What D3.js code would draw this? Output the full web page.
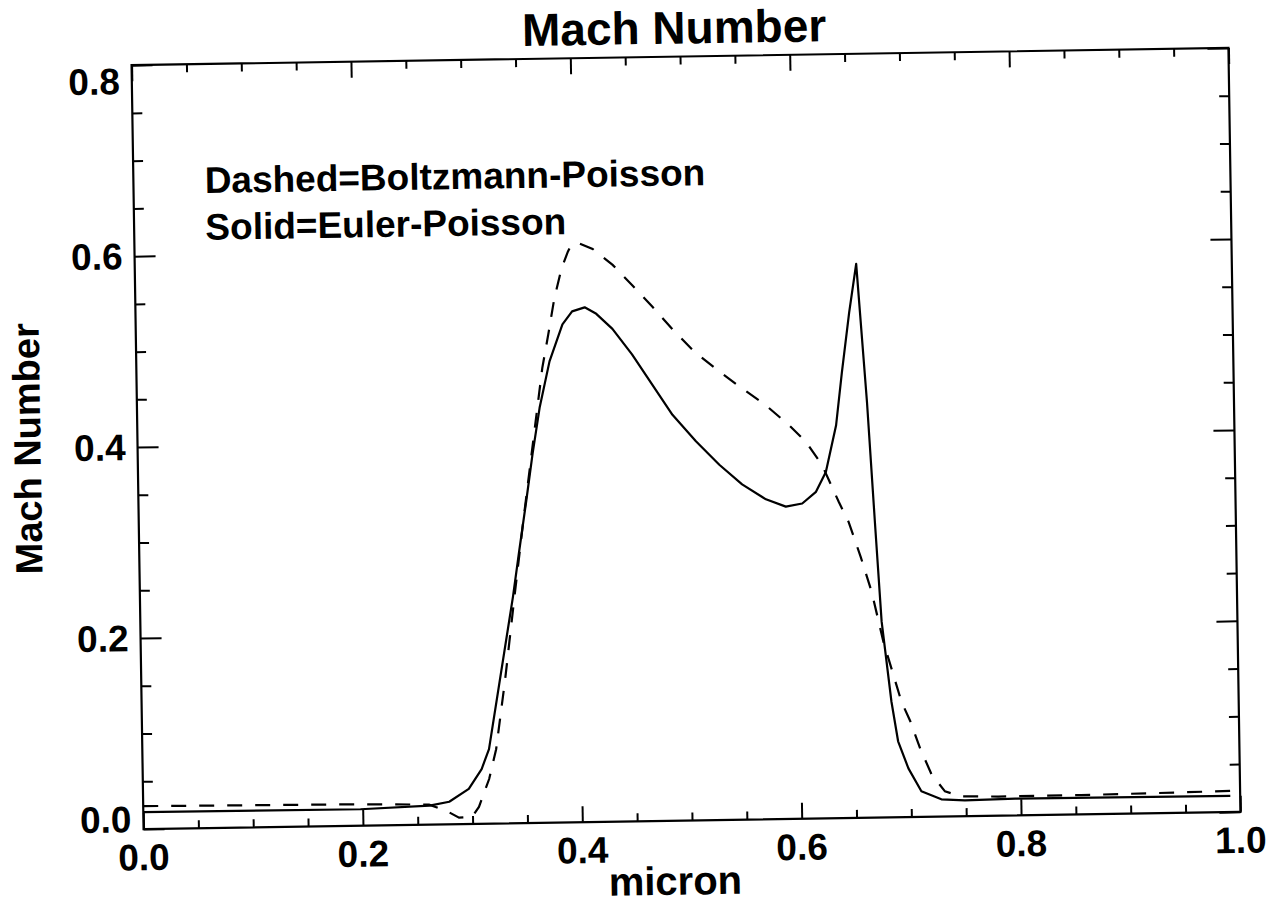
<!DOCTYPE html>
<html>
<head>
<meta charset="utf-8">
<script src="https://cdn.jsdelivr.net/npm/d3@7"></script>
<style>
body { margin: 0; background: #fff; }
text { font-family: 'Liberation Sans', Arial, Helvetica, sans-serif; font-weight: bold; fill: #000; }
</style>
</head>
<body>
<svg id="chart" width="1283" height="910"></svg>
<script>
// values
const solidX = [0, 0.198, 0.261, 0.279, 0.297, 0.309, 0.316, 0.340, 0.3465, 0.3536, 0.360, 0.367, 0.3767, 0.389, 0.398, 0.4095, 0.420, 0.4345, 0.452, 0.470, 0.488, 0.509, 0.530, 0.5505, 0.572, 0.590, 0.605, 0.6177, 0.627, 0.637, 0.643, 0.6505, 0.6576, 0.6655, 0.671, 0.6757, 0.6835, 0.689, 0.698, 0.7095, 0.7276, 0.749, 0.795, 0.991]
const solidY = [0.0177, 0.0172, 0.0198, 0.0236, 0.0367, 0.0573, 0.078, 0.237, 0.286, 0.338, 0.387, 0.4345, 0.483, 0.5216, 0.535, 0.539, 0.532, 0.516, 0.489, 0.457, 0.425, 0.397, 0.372, 0.351, 0.335, 0.327, 0.330, 0.342, 0.3626, 0.4114, 0.4665, 0.529, 0.580, 0.4347, 0.309, 0.205, 0.121, 0.0795, 0.051, 0.0268, 0.018, 0.0165, 0.0175, 0.0169]

const dashedX = [0, 0.198, 0.2606, 0.276, 0.2877, 0.2996, 0.306, 0.3157, 0.3225, 0.3317, 0.341, 0.3506, 0.362, 0.370, 0.376, 0.382, 0.389, 0.395, 0.3985, 0.406, 0.4176, 0.4356, 0.4534, 0.4713, 0.489, 0.509, 0.5295, 0.550, 0.5717, 0.594, 0.6094, 0.6236, 0.6384, 0.647, 0.6576, 0.667, 0.677, 0.6926, 0.7005, 0.709, 0.719, 0.731, 0.7458, 0.7795, 0.855, 0.916, 0.9916]
const dashedY = [0.024, 0.0224, 0.0209, 0.0143, 0.0067, 0.0074, 0.0177, 0.0467, 0.0778, 0.1506, 0.2338, 0.317, 0.4106, 0.476, 0.5115, 0.549, 0.580, 0.5976, 0.605, 0.6057, 0.600, 0.583, 0.561, 0.5385, 0.515, 0.4906, 0.4713, 0.453, 0.435, 0.4124, 0.3943, 0.370, 0.331, 0.310, 0.273, 0.2365, 0.184, 0.121, 0.100, 0.0716, 0.0443, 0.0263, 0.0208, 0.020, 0.0202, 0.0209, 0.0221]

const xMajor = [0, 0.2, 0.4, 0.6, 0.8, 1.0]
const xTickLabels = ['0.0', '0.2', '0.4', '0.6', '0.8', '1.0']
const yMajor = [0, 0.2, 0.4, 0.6, 0.8]
const yTickLabels = ['0.0', '0.2', '0.4', '0.6', '0.8']
const legendLines = ['Dashed=Boltzmann-Poisson', 'Solid=Euler-Poisson']

const svg = d3.select('#chart')
const width = +svg.attr('width')
const height = +svg.attr('height')
const margin = {top: 56.5, right: 48.5, bottom: 89.5, left: 137.5}
const tilt = -0.9   // the scan sits slightly crooked

const xScale = d3.scaleLinear()
	.domain([0, 1])
	.range([margin.left, width - margin.right])

const yScale = d3.scaleLinear()
	.domain([0, 0.8])
	.range([height - margin.bottom, margin.top])

const cx = (margin.left + width - margin.right) / 2
const cy = (margin.top + height - margin.bottom) / 2

const g = svg.append('g')
	.attr('transform', `rotate(${tilt}, ${cx}, ${cy})`)

// minor ticks every 0.05
const xMinor = d3.range(1, 20).filter(i => i % 4 !== 0).map(i => i * 0.05)
const yMinor = d3.range(1, 16).filter(i => i % 4 !== 0).map(i => i * 0.05)

const tickAxis = (axisFn, scale, values, size, translate) => {
	g.append('g')
		.attr('transform', translate)
		.call(axisFn(scale).tickValues(values).tickSize(size).tickFormat(''))
		.call(a => a.select('.domain').remove())
		.selectAll('line')
		.attr('stroke', '#000')
		.attr('stroke-width', 2)
}

const bottomY = `translate(0, ${yScale(0)})`
const topY = `translate(0, ${yScale(0.8)})`
const leftX = `translate(${xScale(0)}, 0)`
const rightX = `translate(${xScale(1)}, 0)`

tickAxis(d3.axisBottom, xScale, xMajor, -16, bottomY)
tickAxis(d3.axisBottom, xScale, xMinor, -8, bottomY)
tickAxis(d3.axisTop, xScale, xMajor, -16, topY)
tickAxis(d3.axisTop, xScale, xMinor, -8, topY)
tickAxis(d3.axisLeft, yScale, yMajor, -21, leftX)
tickAxis(d3.axisLeft, yScale, yMinor, -10, leftX)
tickAxis(d3.axisRight, yScale, yMajor, -21, rightX)
tickAxis(d3.axisRight, yScale, yMinor, -10, rightX)

// frame
g.append('rect')
	.attr('x', xScale(0))
	.attr('y', yScale(0.8))
	.attr('width', xScale(1) - xScale(0))
	.attr('height', yScale(0) - yScale(0.8))
	.attr('fill', 'none')
	.attr('stroke', '#000')
	.attr('stroke-width', 2.2)

// tick labels
g.selectAll('.xlab')
	.data(xMajor)
	.enter()
	.append('text')
	.attr('class', 'xlab')
	.attr('x', d => xScale(d))
	.attr('y', yScale(0) + 41)
	.attr('text-anchor', 'middle')
	.attr('font-size', 37)
	.text((d, i) => xTickLabels[i])

g.selectAll('.ylab')
	.data(yMajor)
	.enter()
	.append('text')
	.attr('class', 'ylab')
	.attr('x', xScale(0) - 12)
	.attr('y', d => Math.max(yScale(0.8) + 16, Math.min(yScale(0) - 10, yScale(d))))
	.attr('dy', '0.35em')
	.attr('text-anchor', 'end')
	.attr('font-size', 37)
	.text((d, i) => yTickLabels[i])

// curves
const line = d3.line()
	.x(d => xScale(d[0]))
	.y(d => yScale(d[1]))

svg.append('defs').append('clipPath')
	.attr('id', 'plotclip')
	.append('rect')
	.attr('x', xScale(0))
	.attr('y', yScale(0.8))
	.attr('width', xScale(1) - xScale(0))
	.attr('height', yScale(0) - yScale(0.8))

g.append('path')
	.datum(d3.zip(solidX, solidY))
	.attr('d', line)
	.attr('clip-path', 'url(#plotclip)')
	.attr('fill', 'none')
	.attr('stroke', '#000')
	.attr('stroke-width', 2.2)
	.attr('stroke-linejoin', 'round')

g.append('path')
	.datum(d3.zip(dashedX, dashedY))
	.attr('d', line)
	.attr('clip-path', 'url(#plotclip)')
	.attr('fill', 'none')
	.attr('stroke', '#000')
	.attr('stroke-width', 2.2)
	.attr('stroke-dasharray', '15,13')

// legend text
g.selectAll('.legend')
	.data(legendLines)
	.enter()
	.append('text')
	.attr('class', 'legend')
	.attr('x', xScale(0.065))
	.attr('y', (d, i) => yScale(0.665 - i * 0.049))
	.attr('font-size', 37)
	.text(d => d)

// titles
g.append('text')
	.attr('x', xScale(0.495))
	.attr('y', yScale(0.8) - 13)
	.attr('text-anchor', 'middle')
	.attr('font-size', 46)
	.text('Mach Number')

g.append('text')
	.attr('x', xScale(0.484))
	.attr('y', yScale(0) + 74)
	.attr('text-anchor', 'middle')
	.attr('font-size', 40)
	.text('micron')

g.append('text')
	.attr('transform', `translate(${xScale(0) - 97}, ${yScale(0.4)}) rotate(-90)`)
	.attr('text-anchor', 'middle')
	.attr('font-size', 38)
	.text('Mach Number')
</script>
</body>
</html>
